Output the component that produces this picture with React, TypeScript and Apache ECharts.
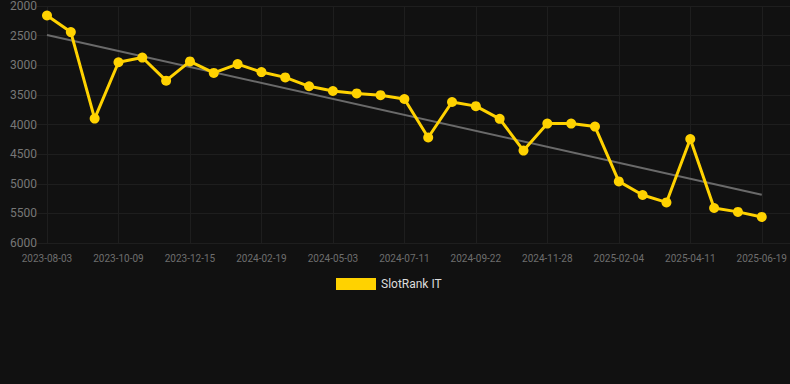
import React, { useEffect, useRef } from "react";
import * as echarts from "echarts";

const categories: string[] = [
  "2023-08-03", "2023-08-25", "2023-09-16", "2023-10-09", "2023-10-31", "2023-11-22",
  "2023-12-15", "2024-01-06", "2024-01-28", "2024-02-19", "2024-03-13", "2024-04-09",
  "2024-05-03", "2024-05-26", "2024-06-18", "2024-07-11", "2024-08-04", "2024-08-28",
  "2024-09-22", "2024-10-14", "2024-11-05", "2024-11-28", "2024-12-21", "2025-01-13",
  "2025-02-04", "2025-02-26", "2025-03-20", "2025-04-11", "2025-05-04", "2025-05-27",
  "2025-06-19",
];

const slotRankIT: number[] = [
  2160, 2440, 3900, 2950, 2870, 3260, 2935, 3130, 2980, 3115, 3205, 3355,
  3435, 3475, 3505, 3570, 4220, 3620, 3690, 3905, 4440, 3985, 3985, 4035,
  4960, 5190, 5315, 4245, 5410, 5475, 5560,
];

const trendValues: number[] = [2490, 5185];

const yTicks = { min: 2000, max: 6000, interval: 500 };

export default function App() {
  const ref = useRef<HTMLDivElement>(null);
  useEffect(() => {
    document.body.style.margin = "0";
    document.body.style.background = "#111111";
    if (!ref.current) return;
    const chart = echarts.init(ref.current, null, { renderer: "svg" });
    const trendData = [
      [categories[0], trendValues[0]],
      [categories[categories.length - 1], trendValues[1]],
    ];
    chart.setOption({
      animation: false,
      backgroundColor: "#111111",
      grid: [
        { left: 47, right: 28, top: 6, bottom: 141 },
        { left: 37, right: 0, top: 6, bottom: 141 },
      ],
      legend: {
        data: ["SlotRank IT"],
        top: 273,
        left: 331,
        itemWidth: 40,
        itemHeight: 12,
        icon: "rect",
        textStyle: { color: "#dddddd", fontSize: 12, fontFamily: "Roboto, sans-serif" },
      },
      xAxis: [
        {
          type: "category",
          gridIndex: 0,
          data: categories,
          boundaryGap: false,
          axisLine: { show: false },
          axisTick: { show: false },
          axisLabel: {
            interval: 2,
            color: "#6e6e6e",
            fontSize: 10,
            margin: 10,
            fontFamily: "Roboto, sans-serif",
          },
          splitLine: { show: true, interval: 2, lineStyle: { color: "#1e1e1e", width: 1 } },
        },
        {
          type: "value",
          gridIndex: 1,
          show: false,
          min: 0,
          max: 1,
          splitLine: { show: false },
        },
      ],
      yAxis: [
        {
          type: "value",
          gridIndex: 0,
          inverse: true,
          min: yTicks.min,
          max: yTicks.max,
          interval: yTicks.interval,
          axisLine: { show: false },
          axisTick: { show: false },
          axisLabel: {
            color: "#777777",
            fontSize: 12,
            margin: 10,
            fontFamily: "Roboto, sans-serif",
            formatter: (v: number) => String(v),
          },
          splitLine: { show: false },
        },
        {
          type: "value",
          gridIndex: 1,
          inverse: true,
          min: yTicks.min,
          max: yTicks.max,
          interval: yTicks.interval,
          axisLine: { show: false },
          axisTick: { show: false },
          axisLabel: { show: false },
          splitLine: { show: true, lineStyle: { color: "#1e1e1e", width: 1 } },
        },
      ],
      series: [
        {
          name: "Trend",
          type: "line",
          xAxisIndex: 0,
          yAxisIndex: 0,
          data: trendData,
          symbol: "none",
          lineStyle: { color: "#6a6a6a", width: 2 },
          z: 2,
          silent: true,
        },
        {
          name: "SlotRank IT",
          type: "line",
          xAxisIndex: 0,
          yAxisIndex: 0,
          data: slotRankIT,
          symbol: "circle",
          symbolSize: 10,
          lineStyle: { color: "#ffd200", width: 3 },
          itemStyle: { color: "#ffd200" },
          z: 3,
        },
      ],
    });
    return () => chart.dispose();
  }, []);
  return <div ref={ref} style={{ width: 790, height: 384, background: "#111111" }} />;
}
